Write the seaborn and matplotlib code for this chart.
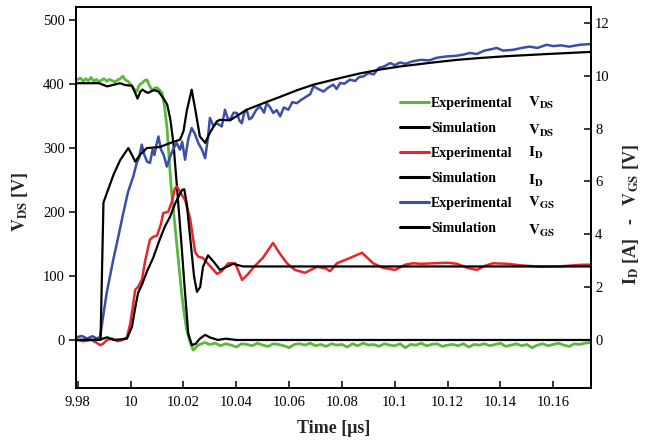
import numpy as np
import pandas as pd
import matplotlib
matplotlib.use("Agg")
import matplotlib.pyplot as plt
import seaborn as sns
from matplotlib.lines import Line2D

# ---------------- data (time in µs) ----------------
t_vds_exp = [9.9795, 9.981, 9.982, 9.983, 9.984, 9.985, 9.986, 9.987, 9.988, 9.989,
             9.990, 9.991, 9.992, 9.993, 9.994, 9.995, 9.996, 9.997, 9.998, 9.999,
             10.000, 10.0009, 10.0017, 10.0024, 10.0030, 10.0037, 10.0043, 10.0050, 10.0056, 10.0062,
             10.0070, 10.0081, 10.0090, 10.0100, 10.0110, 10.0119, 10.0128, 10.0138, 10.0146, 10.0155,
             10.0165, 10.0174, 10.0184, 10.0193, 10.0203, 10.0212, 10.0225, 10.0237, 10.0246, 10.0256,
             10.028, 10.030, 10.032, 10.034, 10.036, 10.038, 10.040, 10.042, 10.044, 10.046,
             10.048, 10.050, 10.052, 10.054, 10.056, 10.058, 10.060, 10.062, 10.064, 10.066,
             10.068, 10.070, 10.072, 10.074, 10.076, 10.078, 10.080, 10.082, 10.084, 10.086,
             10.088, 10.090, 10.092, 10.094, 10.096, 10.098, 10.100, 10.102, 10.104, 10.106,
             10.108, 10.110, 10.112, 10.114, 10.116, 10.118, 10.120, 10.122, 10.124, 10.126,
             10.128, 10.130, 10.132, 10.134, 10.136, 10.138, 10.140, 10.142, 10.144, 10.146,
             10.148, 10.150, 10.152, 10.154, 10.156, 10.158, 10.160, 10.162, 10.164, 10.166,
             10.168, 10.170, 10.172, 10.174]
v_vds_exp = [406, 409, 404, 408, 405, 410, 404, 407, 403, 406,
             408, 404, 407, 405, 403, 406, 408, 412, 406, 404,
             399, 394, 390, 388, 396, 400, 401, 404, 406, 406,
             398, 390, 393, 394, 390, 386, 365, 330, 280, 230,
             190, 152, 110, 73, 40, 16, -4, -16, -12, -8,
             -4, -7, -5, -9, -6, -8, -11, -6, -7, -9,
             -5, -8, -10, -6, -7, -9, -12, -7, -6, -8,
             -5, -9, -7, -10, -6, -8, -7, -11, -6, -9,
             -5, -8, -7, -10, -6, -8, -9, -6, -12, -7,
             -8, -5, -9, -7, -6, -10, -8, -7, -9, -6,
             -11, -7, -8, -6, -9, -7, -5, -10, -8, -6,
             -9, -7, -12, -8, -6, -9, -7, -5, -8, -10,
             -6, -7, -5, -4]

t_vds_sim = [9.9795, 9.9880, 9.9911, 9.9940, 9.9960, 9.9980, 10.0005, 10.0017, 10.0026, 10.0037,
             10.0045, 10.0058, 10.0068, 10.0080, 10.0092, 10.0105, 10.0123, 10.0138, 10.0150, 10.0162,
             10.0177, 10.0192, 10.0206, 10.0218, 10.0232, 10.0246, 10.0262, 10.0282, 10.0300, 10.0330,
             10.0360, 10.0400, 10.1743]
v_vds_sim = [401, 401, 396, 399, 401, 398, 397, 386, 377, 388,
             391, 387, 386, 389, 390, 388, 378, 368, 345, 307,
             230, 151, 73, 10, -8, -6, 2, 8, 4, 0,
             2, 0, 0]

t_id_exp = [9.9795, 9.982, 9.985, 9.987, 9.9884, 9.9895, 9.991, 9.993, 9.995, 9.997,
            9.9986, 9.9998, 10.0009, 10.0017, 10.0028, 10.0043, 10.0055, 10.0073, 10.0085, 10.0100,
            10.0115, 10.0123, 10.0142, 10.0155, 10.0168, 10.0176, 10.0187, 10.0206, 10.0225, 10.0244,
            10.0256, 10.0274, 10.0300, 10.0327, 10.0345, 10.0369, 10.0396, 10.0422, 10.0445, 10.0464,
            10.0490, 10.0500, 10.0539, 10.0566, 10.0592, 10.0622, 10.0660, 10.0706, 10.0740, 10.0755,
            10.0781, 10.0830, 10.0876, 10.0918, 10.0955, 10.1001, 10.1040, 10.1069, 10.1100, 10.1145,
            10.1200, 10.1236, 10.1274, 10.1311, 10.1340, 10.1372, 10.1425, 10.1480, 10.1550, 10.1620,
            10.1701, 10.1743]
v_id_exp = [0.0, -0.05, 0.0, -0.1, -0.2, -0.15, 0.0, 0.05, -0.05, 0.0,
            0.1, 0.6, 1.3, 1.9, 2.0, 2.3, 3.0, 3.8, 3.9, 3.95,
            4.4, 4.8, 4.85, 5.2, 5.75, 5.8, 5.6, 5.3, 4.6, 3.33,
            3.15, 3.1, 2.8, 2.5, 2.6, 2.9, 2.9, 2.27, 2.5, 2.73,
            3.0, 3.1, 3.67, 3.25, 2.9, 2.65, 2.54, 2.77, 2.7, 2.6,
            2.9, 3.1, 3.3, 2.9, 2.73, 2.65, 2.85, 2.9, 2.88, 2.9,
            2.92, 2.88, 2.73, 2.65, 2.8, 2.9, 2.88, 2.82, 2.77, 2.78,
            2.84, 2.85]

t_id_sim = [9.9795, 9.9880, 9.9911, 9.9935, 9.9960, 9.9986, 10.0005, 10.0017, 10.0028, 10.0043,
            10.0062, 10.0085, 10.0110, 10.0130, 10.0149, 10.0170, 10.0195, 10.0203, 10.0212, 10.0225,
            10.0240, 10.0251, 10.0263, 10.0274, 10.0293, 10.0315, 10.0338, 10.0360, 10.0388, 10.0426,
            10.0500, 10.1743]
v_id_sim = [0.0, 0.0, 0.1, 0.0, 0.02, 0.05, 0.5, 1.2, 1.78, 2.1,
            2.6, 3.1, 3.8, 4.3, 4.66, 5.2, 5.68, 5.7, 5.18, 3.9,
            2.4, 1.82, 2.0, 2.77, 3.2, 2.95, 2.65, 2.75, 2.88, 2.78,
            2.78, 2.78]

t_vgs_exp = [9.9795, 9.9815, 9.9835, 9.9855, 9.9870, 9.9884, 9.9909, 9.9934, 9.9953, 9.9972,
             9.9990, 10.0010, 10.0023, 10.0032, 10.0042, 10.0052, 10.0062, 10.0073, 10.0083, 10.0090,
             10.0098, 10.0105, 10.0115, 10.0125, 10.0137, 10.0148, 10.0160, 10.0174, 10.0187, 10.0195,
             10.0206, 10.0218, 10.0231, 10.0243, 10.0256, 10.0270, 10.0282, 10.0292, 10.0300, 10.0313,
             10.0326, 10.0345, 10.0357, 10.0367, 10.0376, 10.0390, 10.0402, 10.0412, 10.0421, 10.0430,
             10.0439, 10.0449, 10.0458, 10.0475, 10.0490, 10.0505, 10.0515, 10.0528, 10.0540, 10.0553,
             10.0566, 10.0580, 10.0597, 10.0612, 10.0629, 10.0648, 10.0667, 10.0680, 10.0692, 10.0710,
             10.0730, 10.0748, 10.0767, 10.0780, 10.0793, 10.0810, 10.0830, 10.0850, 10.0865, 10.0881,
             10.0900, 10.0920, 10.0940, 10.0960, 10.0983, 10.1000, 10.1020, 10.1040, 10.1070, 10.1100,
             10.1130, 10.1160, 10.1197, 10.1230, 10.1260, 10.1285, 10.1310, 10.1340, 10.1365, 10.1386,
             10.1410, 10.1448, 10.1480, 10.1510, 10.1540, 10.1575, 10.1600, 10.1630, 10.1660, 10.1701,
             10.1743]
v_vgs_exp = [0.1, 0.15, 0.05, 0.14, 0.06, 0.1, 1.77, 3.03, 3.9, 4.8,
             5.6, 6.19, 6.7, 6.9, 7.39, 7.0, 6.75, 6.7, 7.2, 7.0,
             7.4, 7.7, 7.2, 7.0, 6.56, 6.9, 7.2, 7.45, 7.2, 7.5,
             6.82, 7.6, 8.02, 7.8, 7.45, 7.2, 6.88, 7.6, 8.4, 8.1,
             8.2, 8.08, 8.71, 8.4, 8.33, 8.6, 8.59, 8.3, 8.2, 8.6,
             8.71, 8.35, 8.4, 8.7, 8.84, 8.6, 8.96, 8.8, 8.59, 8.7,
             8.46, 8.8, 8.71, 9.0, 8.96, 9.1, 9.22, 9.3, 9.6, 9.5,
             9.4, 9.55, 9.66, 9.5, 9.72, 9.7, 9.85, 9.8, 9.95, 9.97,
             10.1, 10.05, 10.3, 10.35, 10.48, 10.4, 10.5, 10.45, 10.55, 10.6,
             10.58, 10.68, 10.73, 10.75, 10.8, 10.86, 10.82, 10.95, 11.0, 11.05,
             10.95, 10.98, 11.05, 11.1, 11.05, 11.17, 11.12, 11.15, 11.1, 11.17,
             11.2]

t_vgs_sim = [9.9795, 9.9886, 9.9897, 9.9915, 9.9935, 9.9960, 9.9991, 10.0005, 10.0017, 10.0035,
             10.0061, 10.0085, 10.0110, 10.0149, 10.0187, 10.0200, 10.0213, 10.0231, 10.0245, 10.0262,
             10.0282, 10.0300, 10.0326, 10.0338, 10.0376, 10.0439, 10.0500, 10.0566, 10.0630, 10.0692,
             10.0793, 10.0865, 10.0943, 10.1020, 10.1145, 10.1236, 10.1323, 10.1425, 10.1576, 10.1701,
             10.1743]
v_vgs_sim = [0.0, 0.0, 5.2, 5.7, 6.25, 6.8, 7.26, 7.0, 6.75, 7.0,
             7.26, 7.28, 7.3, 7.45, 7.58, 7.9, 8.7, 9.47, 8.7, 7.7,
             7.46, 7.84, 8.27, 8.33, 8.31, 8.71, 8.95, 9.2, 9.45, 9.66,
             9.91, 10.08, 10.23, 10.35, 10.5, 10.6, 10.67, 10.74, 10.82, 10.88,
             10.9]

x_ticks = [9.98, 10.0, 10.02, 10.04, 10.06, 10.08, 10.1, 10.12, 10.14, 10.16]
x_tick_labels = ["9.98", "10", "10.02", "10.04", "10.06", "10.08", "10.1", "10.12", "10.14", "10.16"]
left_ticks = [0, 100, 200, 300, 400, 500]
right_ticks = [0, 2, 4, 6, 8, 10, 12]

legend_labels = ["Experimental", "Simulation", "Experimental", "Simulation", "Experimental", "Simulation"]
legend_symbols = [r"$\mathbf{V_{DS}}$", r"$\mathbf{V_{DS}}$", r"$\mathbf{I_{D}}$",
                  r"$\mathbf{I_{D}}$", r"$\mathbf{V_{GS}}$", r"$\mathbf{V_{GS}}$"]

# ---------------- style ----------------
GREEN = "#5cb83a"
RED = "#e8262a"
BLUE = "#3b4fa8"
BLACK = "#000000"

sns.set_theme(style="white")
plt.rcParams['font.family'] = ['Liberation Serif', 'DejaVu Serif']
plt.rcParams['mathtext.fontset'] = 'stix'

W, H = 653, 441
fig = plt.figure(figsize=(W / 100, H / 100), dpi=100)
ax = fig.add_axes([76 / W, 1 - 388 / H, (591 - 76) / W, (388 - 7) / H])
ax2 = ax.twinx()


def draw(axis, t, v, color, lw, z):
    df = pd.DataFrame({"t": t, "v": v})
    sns.lineplot(data=df, x="t", y="v", ax=axis, color=color, linewidth=lw,
                 estimator=None, sort=False, zorder=z)


draw(ax, t_vds_exp, v_vds_exp, GREEN, 2.0, 2)
draw(ax, t_vds_sim, v_vds_sim, BLACK, 1.6, 3)
draw(ax2, t_id_exp, v_id_exp, RED, 1.8, 2)
draw(ax2, t_vgs_exp, v_vgs_exp, BLUE, 1.8, 2)
draw(ax2, t_id_sim, v_id_sim, BLACK, 1.6, 3)
draw(ax2, t_vgs_sim, v_vgs_sim, BLACK, 1.6, 3)

ax.set_xlim(9.9793, 10.1743)
ax.set_ylim(-75, 520)
ax2.set_ylim(-1.82, 12.6)

ax.set_xticks(x_ticks)
ax.set_xticklabels(x_tick_labels)
ax.set_yticks(left_ticks)
ax2.set_yticks(right_ticks)

ax.tick_params(axis='x', direction='in', length=5, width=1.1, pad=6, labelsize=10.5,
               colors='black', bottom=True, top=False)
ax.tick_params(axis='y', direction='out', length=5, width=1.1, pad=3, labelsize=10.5,
               colors='black', left=True)
ax2.tick_params(axis='y', direction='in', length=5, width=1.1, pad=3, labelsize=10.5,
                colors='black', right=True)
for a in (ax, ax2):
    for s in a.spines.values():
        s.set_color('black')
        s.set_linewidth(1.3)
        s.set_visible(True)
    a.grid(False)

ax.set_xlabel("Time [μs]", fontsize=13, fontweight='bold', labelpad=8)
ax.set_ylabel(r"$\mathbf{V_{DS}}$ [V]", fontsize=13, fontweight='bold')
ax.yaxis.set_label_coords(-0.09, 0.49)
ax2.set_ylabel(r"$\mathbf{I_{D}}$ [A]   -   $\mathbf{V_{GS}}$ [V]", fontsize=13, fontweight='bold',
               rotation=90)
ax2.yaxis.set_label_coords(1.058, 0.455)

handles = [Line2D([], [], color=c, lw=2.2) for c in [GREEN, BLACK, RED, BLACK, BLUE, BLACK]]
leg = ax2.legend(handles, legend_labels, loc='upper left',
                 bbox_to_anchor=(400 / W, 1 - 97 / H), bbox_transform=fig.transFigure,
                 frameon=False, prop={'family': 'Liberation Serif', 'weight': 'bold', 'size': 10},
                 handlelength=2.1, handletextpad=0.15, labelspacing=0.86,
                 borderpad=0, borderaxespad=0)
for txt in leg.get_texts():
    txt.set_color('black')

fig.canvas.draw()
renderer = fig.canvas.get_renderer()
for txt, sym in zip(leg.get_texts(), legend_symbols):
    ext = txt.get_window_extent(renderer)
    w, h, d = renderer.get_text_width_height_descent(txt.get_text(), txt.get_fontproperties(), ismath=False)
    base = ext.y0 + d
    fig.text(528 / W, base / fig.bbox.height, sym, fontsize=11, va='baseline', ha='left',
             color='black')

fig.savefig("out.png", dpi=100)
